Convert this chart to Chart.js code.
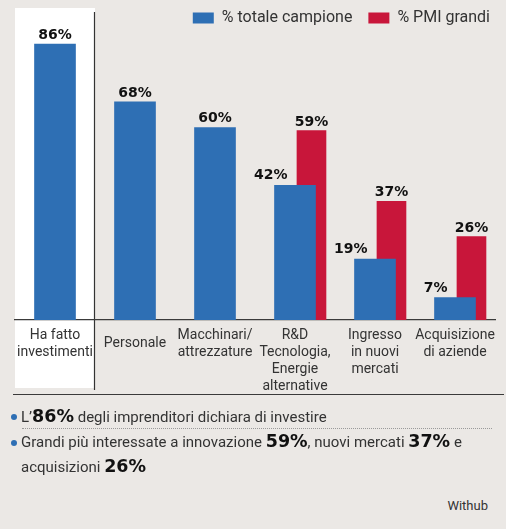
<!DOCTYPE html>
<html><head><meta charset="utf-8">
<script src="https://cdn.jsdelivr.net/npm/chart.js@4.4.1/dist/chart.umd.min.js"></script>
<style>
html,body{margin:0;padding:0;background:#ebe8e5;width:506px;height:529px;overflow:hidden;font-family:Roboto,sans-serif;color:#333;}
#wrap{position:absolute;left:0;top:0;width:506px;height:407px;}
.rule{position:absolute;left:13px;width:491px;height:0;border-top:1.5px solid #3a3a3a;}
.dots{position:absolute;left:22px;width:470px;height:0;border-top:1.5px dotted #9a9a9a;}
.dot{position:absolute;left:11px;width:6px;height:6px;border-radius:50%;background:#2e6fb4;}
.txt{position:absolute;left:21px;white-space:nowrap;font-size:15px;line-height:24.5px;color:#333;}
.big{font-family:"DejaVu Sans",sans-serif;font-weight:bold;font-size:17.5px;color:#111;line-height:20px;}
.src{position:absolute;right:18px;top:496px;font-size:13px;line-height:20px;color:#333;}
</style></head><body>
<div id="wrap"><canvas id="c" width="506" height="407" style="width:506px;height:407px"></canvas></div>
<div class="rule" style="top:394px"></div>
<div class="dot" style="top:414px"></div>
<div class="txt" style="top:405px">L’<span class="big">86%</span> degli imprenditori dichiara di investire</div>
<div class="dots" style="top:428px"></div>
<div class="dot" style="top:440px"></div>
<div class="txt" style="top:430px">Grandi più interessate a innovazione <span class="big">59%</span>, nuovi mercati <span class="big">37%</span> e<br>acquisizioni <span class="big">26%</span></div>
<div class="src">Withub</div>
<script>
const categories = [["Ha fatto","investimenti"],"Personale",["Macchinari/","attrezzature"],["R&D","Tecnologia,","Energie","alternative"],["Ingresso","in nuovi","mercati"],["Acquisizione","di aziende"]];
const totaleCampione = [86,68,60,42,19,7];
const pmiGrandi = [null,null,null,59,37,26];
const seriesNames = ["% totale campione","% PMI grandi"];
const seriesColors = ["#2e6fb4","#c8163a"];

const SHIFT = 0.206;
const YMAX = 88.5;

const redPoints = pmiGrandi.map((v,i)=> v==null ? null : {x:i, y:v}).filter(p=>p!==null);

const panelPlugin = {
  id:'panel',
  beforeDraw(chart){
    const {ctx, chartArea} = chart;
    const x = chart.scales.x;
    const edge = (x.getPixelForValue(0)+x.getPixelForValue(1))/2;
    ctx.save();
    ctx.fillStyle = '#ffffff';
    ctx.fillRect(chartArea.left, 8, edge-chartArea.left, 380);
    ctx.strokeStyle = '#333';
    ctx.lineWidth = 1.2;
    ctx.beginPath();
    ctx.moveTo(edge-0.5, 12);
    ctx.lineTo(edge-0.5, 390);
    ctx.stroke();
    ctx.restore();
  }
};

const valuePlugin = {
  id:'values',
  afterDatasetsDraw(chart){
    const ctx = chart.ctx;
    ctx.save();
    ctx.font = 'bold 14px "DejaVu Sans"';
    ctx.fillStyle = '#111';
    ctx.textBaseline = 'alphabetic';
    chart.data.datasets.forEach((ds, di)=>{
      const meta = chart.getDatasetMeta(di);
      meta.data.forEach((el, j)=>{
        const raw = ds.data[j];
        const v = (raw && typeof raw === 'object') ? raw.y : raw;
        if (v == null) return;
        const txt = v + '%';
        if (di === 0 && pmiGrandi[j] != null) {
          ctx.textAlign = 'right';
          ctx.fillText(txt, el.x - el.width/2 + 13, el.y - 6);
        } else {
          ctx.textAlign = 'center';
          ctx.fillText(txt, el.x, el.y - 5);
        }
      });
    });
    ctx.restore();
  }
};

new Chart(document.getElementById('c'), {
  type:'bar',
  data:{
    labels: categories,
    datasets:[
      {label:seriesNames[0], data:totaleCampione, backgroundColor:seriesColors[0], barThickness:41, grouped:false, xAxisID:'x', yAxisID:'y'},
      {label:seriesNames[1], data:redPoints, backgroundColor:seriesColors[1], barThickness:29, grouped:false, xAxisID:'x2', yAxisID:'y'}
    ]
  },
  options:{
    responsive:false,
    animation:false,
    layout:{padding:{left:15, right:0, top:-6, bottom:6}},
    plugins:{
      tooltip:{enabled:false},
      legend:{
        display:true, position:'top', align:'end',
        labels:{boxWidth:21, boxHeight:11, padding:16, color:'#333', font:{family:'Roboto', size:16}}
      }
    },
    scales:{
      x:{
        type:'category', offset:true,
        grid:{display:false, drawTicks:false},
        border:{display:true, color:'#3a3a3a', width:1.3},
        ticks:{
          color:'#333', padding:6.5, autoSkip:false, maxRotation:0, minRotation:0,
          font:(c)=>({family:'Roboto', size:14, lineHeight: c.index===1 ? '33px' : '17px'})
        }
      },
      x2:{type:'linear', display:false, offset:false, min:-0.5-SHIFT, max:5.5-SHIFT},
      y:{
        min:0, max:YMAX, position:'right', display:true,
        grid:{display:false}, border:{display:false}, ticks:{display:false},
        afterFit(s){ s.width = 11; }
      }
    }
  },
  plugins:[panelPlugin, valuePlugin]
});
</script>
</body></html>
